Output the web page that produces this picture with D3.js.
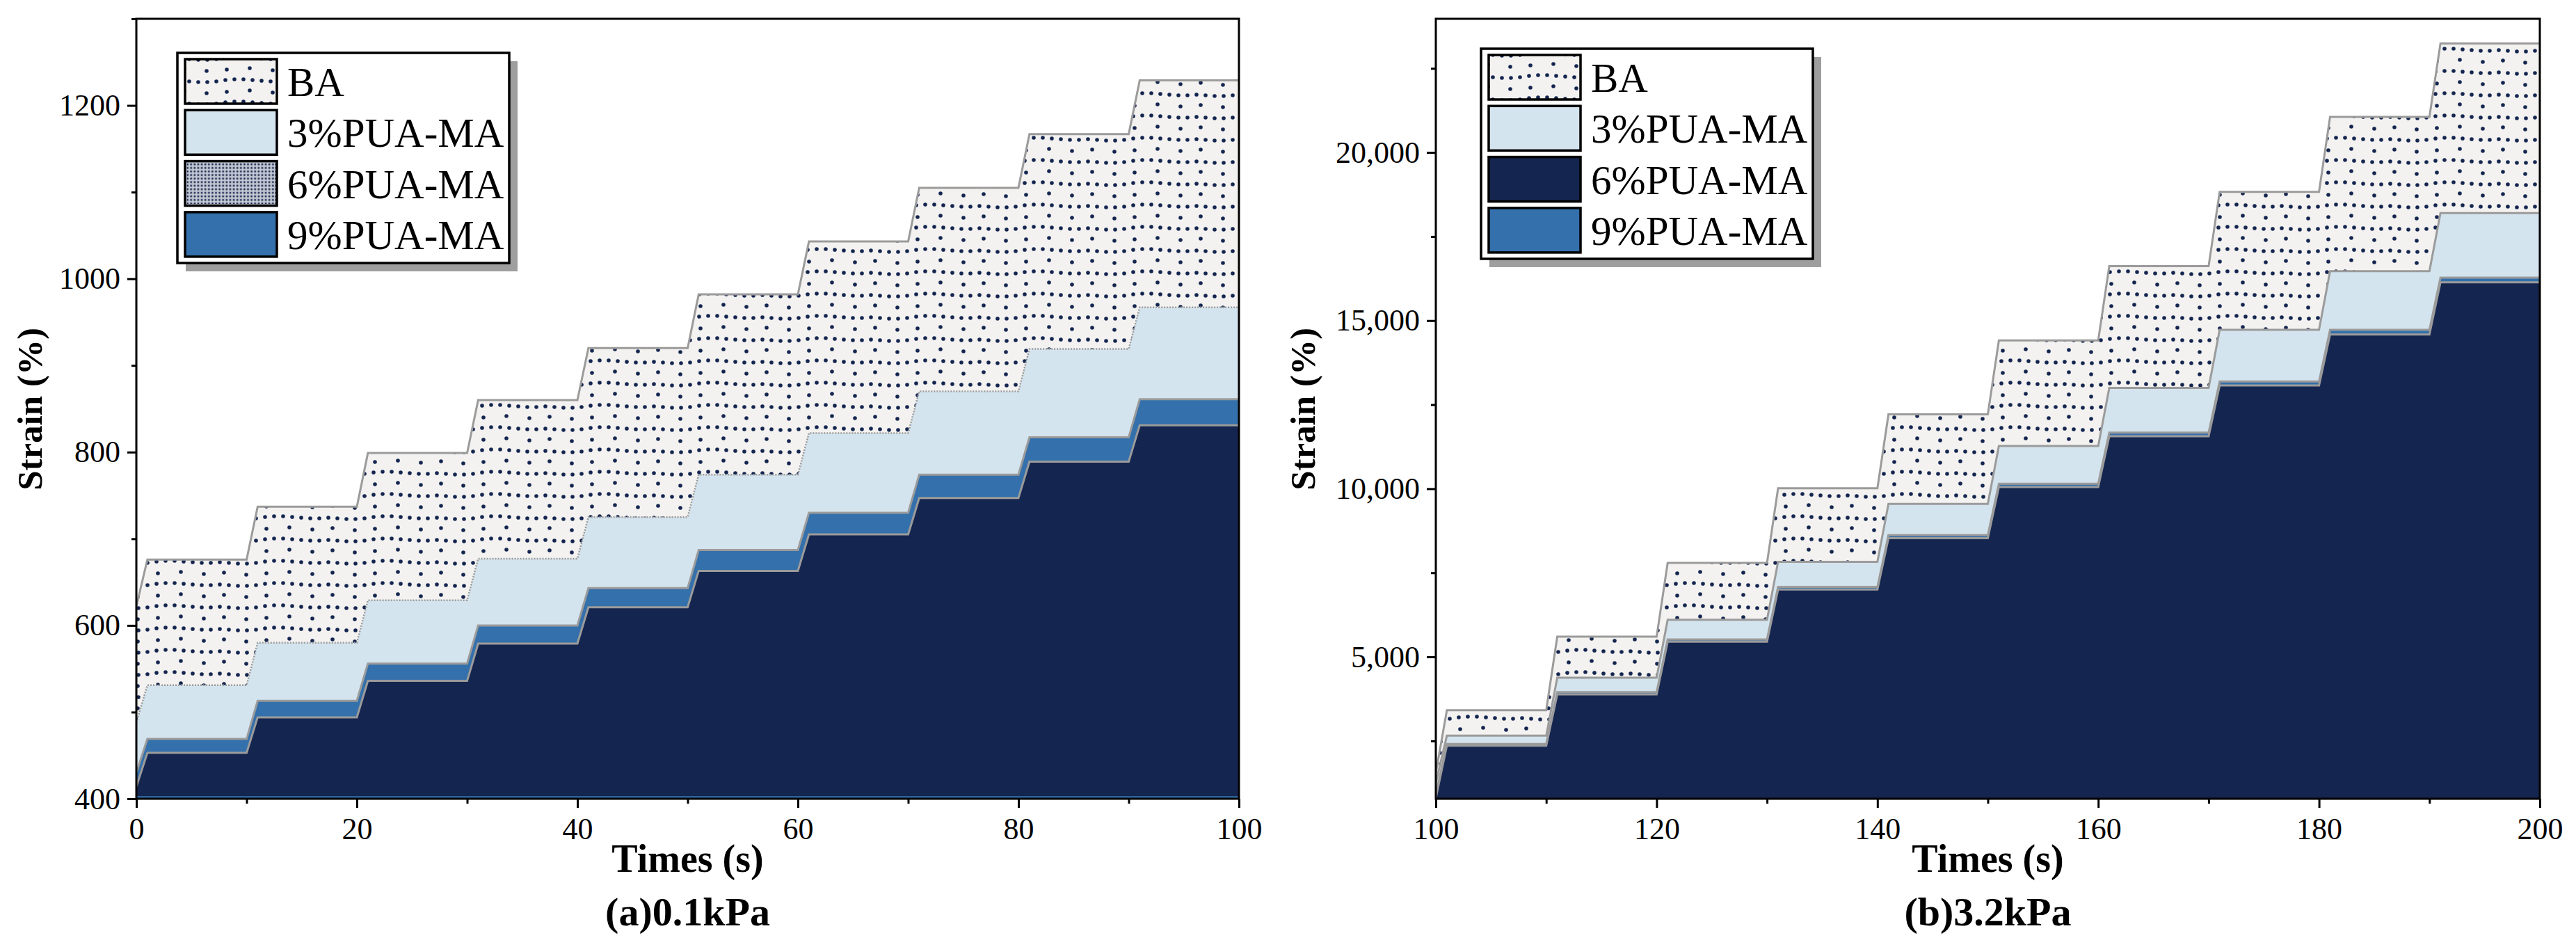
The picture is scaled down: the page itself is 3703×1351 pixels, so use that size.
<!DOCTYPE html>
<html>
<head>
<meta charset="utf-8">
<script src="https://cdn.jsdelivr.net/npm/d3@7"></script>
<style>
body { margin: 0; background: #fff; }
text { font-family: "Liberation Serif", "Times New Roman", serif; fill: #000; }
</style>
</head>
<body>
<div class="viz"></div>
<script>
const SVGwd = 3703, SVGht = 1351;

const seriesNames = ["BA", "3%PUA-MA", "6%PUA-MA", "9%PUA-MA"];

// (a) 0.1kPa : start value at t=0, then the plateau level of every 10 s step
const startA = { ba: 622, p3: 488, p6: 414, p9: 430 };
const baA = [676, 737, 799, 860, 920, 982, 1043, 1105, 1167, 1229];
const pua3A = [531, 580, 629, 677, 725, 774, 822, 870, 919, 967];
const pua9A = [469, 513, 556, 600, 643, 687, 730, 774, 817, 861];
const pua6A = [453, 494, 536, 579, 621, 663, 705, 747, 789, 831];
const stepStartA = [0, 10, 20, 30, 40, 50, 60, 70, 80, 90];

// (b) 3.2kPa
const startB = { ba: 1550, p3: 1250, p6: 800, p9: 900 };
const baB = [3413, 5600, 7793, 10014, 12210, 14410, 16620, 18828, 21056, 23243];
const pua3B = [2656, 4379, 6103, 7828, 9550, 11270, 13000, 14725, 16469, 18195];
const pua9B = [2410, 3950, 5520, 7080, 8620, 10150, 11670, 13190, 14725, 16277];
const pua6B = [2358, 3883, 5449, 7001, 8530, 10050, 11560, 13070, 14586, 16139];
const stepStartB = [100, 110, 120, 130, 140, 150, 160, 170, 180, 190];

const xTicksA = [0, 20, 40, 60, 80, 100], xMinorA = [10, 30, 50, 70, 90];
const xTicksB = [100, 120, 140, 160, 180, 200], xMinorB = [110, 130, 150, 170, 190];
const yTicksA = [400, 600, 800, 1000, 1200], yMinorA = [500, 700, 900, 1100, 1300];
const yTicksB = [5000, 10000, 15000, 20000], yMinorB = [2500, 7500, 12500, 17500, 22500];

const navy = "#14254f", lightBlue = "#d4e4ee", steel = "#3470ab", edge = "#9b9b9b";
const RAMP = 1, STEP = 10;

var svg = d3.select(".viz")
    .append("svg")
    .attr("width", SVGwd)
    .attr("height", SVGht);

var defs = svg.append("defs");

// dotted "BA" texture: one wavy dense row + one sparse row per tile
var dots = defs.append("pattern")
    .attr("id", "dots")
    .attr("patternUnits", "userSpaceOnUse")
    .attr("width", 156)
    .attr("height", 32);
dots.append("rect").attr("width", 156).attr("height", 32).attr("fill", "#f3f2f0");
const wave = [0, 1, 2, 2, 1, -1, -2, -2, -1, 0, 1, 1];
wave.forEach((w, i) => {
    dots.append("circle").attr("cx", 4 + 13 * i).attr("cy", 8 + w).attr("r", 2.8).attr("fill", navy);
});
[[10, -1], [42, 2], [71, 0], [104, -2], [137, 1]].forEach(d => {
    dots.append("circle").attr("cx", d[0]).attr("cy", 24 + d[1]).attr("r", 2.8).attr("fill", navy);
});

// fine checker used by the 6% swatch of panel (a)
var checker = defs.append("pattern")
    .attr("id", "checker")
    .attr("patternUnits", "userSpaceOnUse")
    .attr("width", 2)
    .attr("height", 2);
checker.append("rect").attr("width", 2).attr("height", 2).attr("fill", "#c5c9d3");
checker.append("rect").attr("width", 1).attr("height", 1).attr("fill", navy);

function stepPoints(t0, start, steps, levels) {
    let pts = [{ t: t0, v: start }];
    levels.forEach((v, k) => {
        pts.push({ t: steps[k] + RAMP, v: v });
        pts.push({ t: steps[k] + STEP, v: v });
    });
    return pts;
}

function drawPanel(p) {
    var x = d3.scaleLinear().domain(p.xDomain).range([p.left, p.right]);
    var y = d3.scaleLinear().domain(p.yDomain).range([1148, 27]);
    var g = svg.append("g");

    g.append("clipPath").attr("id", "clip" + p.id)
        .append("rect")
        .attr("x", p.left).attr("y", 27)
        .attr("width", p.right - p.left).attr("height", 1148 - 27);

    var plot = g.append("g").attr("clip-path", `url(#clip${p.id})`);

    var area = d3.area()
        .x(d => x(d.t))
        .y0(y(p.yDomain[0]))
        .y1(d => y(d.v));
    var line = d3.line()
        .x(d => x(d.t))
        .y(d => y(d.v));

    p.series.forEach(s => {
        let pts = stepPoints(p.xDomain[0], s.start, p.steps, s.values);
        plot.append("path")
            .datum(pts)
            .attr("d", area)
            .attr("fill", s.fill);
        plot.append("path")
            .datum(pts)
            .attr("d", line)
            .attr("fill", "none")
            .attr("stroke", edge)
            .attr("stroke-width", s.dash ? 2.5 : 3)
            .attr("stroke-dasharray", s.dash ? "2,2" : null);
    });

    if (p.bottomLine)
        plot.append("line")
            .attr("x1", p.left).attr("x2", p.right)
            .attr("y1", 1145.5).attr("y2", 1145.5)
            .attr("stroke", steel).attr("stroke-width", 2.5);

    // frame
    g.append("rect")
        .attr("x", p.left).attr("y", 27)
        .attr("width", p.right - p.left).attr("height", 1148 - 27)
        .attr("fill", "none")
        .attr("stroke", "#000")
        .attr("stroke-width", 3);

    // axes
    var xAxis = d3.axisBottom(x).tickValues(p.xTicks).tickSize(13).tickPadding(14).tickFormat(d3.format("d"));
    var xg = g.append("g").attr("transform", `translate(0,1148)`).call(xAxis);
    var xm = g.append("g").attr("transform", `translate(0,1148)`)
        .call(d3.axisBottom(x).tickValues(p.xMinor).tickSize(7).tickFormat(""));
    var yAxis = d3.axisLeft(y).tickValues(p.yTicks).tickSize(13).tickPadding(10).tickFormat(p.yFormat);
    var yg = g.append("g").attr("transform", `translate(${p.left},0)`).call(yAxis);
    var ym = g.append("g").attr("transform", `translate(${p.left},0)`)
        .call(d3.axisLeft(y).tickValues(p.yMinor).tickSize(7).tickFormat(""));

    [xg, xm, yg, ym].forEach(a => {
        a.select(".domain").remove();
        a.selectAll(".tick line").attr("stroke", "#000").attr("stroke-width", 3);
        a.selectAll(".tick text").style("font-size", "44px").attr("fill", "#000");
    });
    xg.selectAll(".tick text").attr("dy", "0.71em");

    // axis titles
    g.append("text")
        .attr("x", (p.left + p.right) / 2)
        .attr("y", 1253)
        .attr("text-anchor", "middle")
        .style("font-size", "56px")
        .style("font-weight", "bold")
        .text("Times (s)");
    g.append("text")
        .attr("x", (p.left + p.right) / 2)
        .attr("y", 1330)
        .attr("text-anchor", "middle")
        .style("font-size", "58px")
        .style("font-weight", "bold")
        .text(p.title);
    g.append("text")
        .attr("transform", `translate(${p.ylabX},588) rotate(-90)`)
        .attr("text-anchor", "middle")
        .style("font-size", "51px")
        .style("font-weight", "bold")
        .text("Strain (%)");

    // legend
    var lg = g.append("g").attr("transform", `translate(${p.legend[0]},${p.legend[1]})`);
    lg.append("rect")
        .attr("x", 12).attr("y", 12)
        .attr("width", 477).attr("height", 302)
        .attr("fill", "#9e9e9e");
    lg.append("rect")
        .attr("width", 477).attr("height", 302)
        .attr("fill", "#fff")
        .attr("stroke", "#000")
        .attr("stroke-width", 3.5);
    seriesNames.forEach((name, i) => {
        let s = p.legendFills[i];
        lg.append("rect")
            .attr("x", 11).attr("y", 9 + i * 73.3)
            .attr("width", 132).attr("height", 64)
            .attr("fill", s)
            .attr("stroke", "#000")
            .attr("stroke-width", 3.5);
        lg.append("text")
            .attr("x", 158)
            .attr("y", 9 + i * 73.3 + 53)
            .style("font-size", "59px")
            .text(name);
    });
}

drawPanel({
    id: "A", left: 196, right: 1781,
    xDomain: [0, 100], yDomain: [400, 1300],
    steps: stepStartA,
    xTicks: xTicksA, xMinor: xMinorA, yTicks: yTicksA, yMinor: yMinorA,
    yFormat: d3.format("d"),
    series: [
        { start: startA.ba, values: baA, fill: "url(#dots)" },
        { start: startA.p3, values: pua3A, fill: lightBlue, dash: true },
        { start: startA.p9, values: pua9A, fill: steel },
        { start: startA.p6, values: pua6A, fill: navy }
    ],
    bottomLine: true,
    legend: [255, 76],
    legendFills: ["url(#dots)", lightBlue, "url(#checker)", steel],
    ylabX: 60,
    title: "(a)0.1kPa"
});

drawPanel({
    id: "B", left: 2064, right: 3651,
    xDomain: [100, 200], yDomain: [780, 23975],
    steps: stepStartB,
    xTicks: xTicksB, xMinor: xMinorB, yTicks: yTicksB, yMinor: yMinorB,
    yFormat: d3.format(","),
    series: [
        { start: startB.ba, values: baB, fill: "url(#dots)" },
        { start: startB.p3, values: pua3B, fill: lightBlue },
        { start: startB.p9, values: pua9B, fill: steel },
        { start: startB.p6, values: pua6B, fill: navy }
    ],
    bottomLine: false,
    legend: [2129, 70],
    legendFills: ["url(#dots)", lightBlue, navy, steel],
    ylabX: 1890,
    title: "(b)3.2kPa"
});
</script>
</body>
</html>
